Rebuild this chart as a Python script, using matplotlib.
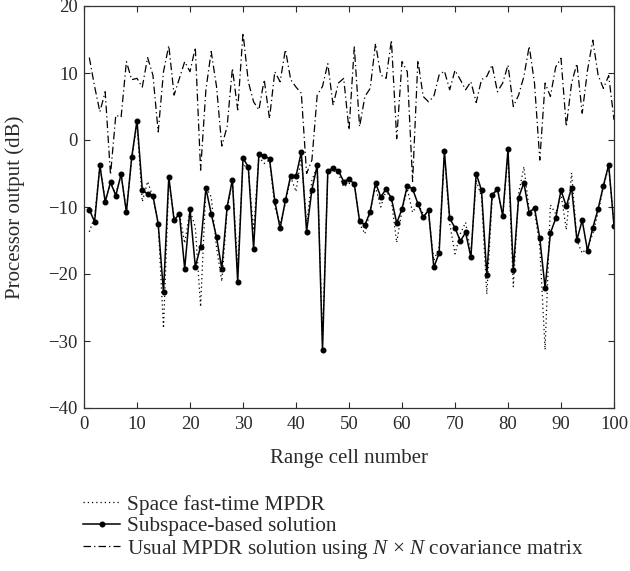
import matplotlib
matplotlib.use("Agg")
import matplotlib.pyplot as plt
import numpy as np

range_cells = list(range(1, 101))

subspace = [-10.4, -12.2, -3.8, -9.25, -6.3, -8.3, -5.1, -10.8, -2.6, 2.9,
            -7.4, -8.1, -8.3, -12.5, -22.7, -5.5, -12.0, -11.0, -19.2, -10.3,
            -18.9, -15.9, -7.2, -11.0, -14.5, -19.2, -10.0, -5.9, -21.2, -2.7,
            -4.0, -16.2, -2.1, -2.4, -2.8, -9.1, -13.2, -9.0, -5.3, -5.4,
            -1.8, -13.7, -7.4, -3.8, -31.4, -4.6, -4.2, -4.6, -6.2, -5.8,
            -6.6, -12.1, -12.7, -10.7, -6.4, -8.5, -7.3, -8.7, -12.4, -10.3,
            -6.8, -7.3, -9.5, -11.5, -10.5, -19.0, -16.9, -1.7, -11.7, -13.1,
            -15.1, -13.8, -17.5, -5.0, -7.5, -20.2, -8.2, -7.3, -11.3, -1.4,
            -19.4, -8.6, -6.4, -10.9, -10.1, -14.7, -22.1, -13.9, -11.7, -7.5,
            -9.9, -7.1, -14.9, -12.0, -16.5, -13.1, -10.3, -6.8, -3.7, -12.8]

space_fast_time = [-13.7, -11.5, -3.8, -9.0, -6.5, -8.0, -5.3, -10.5, -2.8, 2.5,
                   -9.2, -6.2, -8.5, -12.5, -28.1, -6.0, -11.5, -11.0, -15.4, -10.5,
                   -13.0, -24.9, -7.0, -8.5, -16.0, -21.1, -10.5, -6.0, -19.0, -3.5,
                   -4.5, -13.5, -2.5, -3.5, -3.0, -10.0, -12.5, -9.5, -5.5, -7.7,
                   -2.5, -12.5, -6.0, -4.0, -30.0, -4.8, -4.5, -5.0, -7.0, -6.5,
                   -6.3, -12.5, -14.0, -10.5, -7.0, -10.0, -7.5, -9.0, -15.3, -10.5,
                   -7.3, -10.8, -9.5, -11.0, -11.0, -18.0, -16.0, -2.0, -12.5, -17.0,
                   -14.0, -12.3, -17.0, -6.0, -8.5, -23.0, -9.0, -7.0, -11.5, -2.0,
                   -21.9, -8.0, -4.0, -10.5, -10.5, -16.0, -31.3, -9.7, -11.0, -8.0,
                   -13.4, -4.9, -15.0, -16.9, -16.0, -14.0, -10.8, -7.0, -4.0, -12.8]

usual_mpdr = [12.3, 8.0, 4.2, 7.2, -5.2, 3.7, 3.4, 11.7, 9.0, 9.2,
              7.9, 12.3, 9.7, 1.2, 10.2, 14.1, 6.7, 9.2, 11.7, 10.2,
              13.8, -4.5, 7.5, 13.2, 8.0, -0.9, 2.0, 10.7, 4.5, 16.0,
              8.7, 5.7, 4.5, 9.0, 3.2, 10.2, 8.7, 13.5, 9.0, 7.9,
              7.0, -5.0, -3.0, 6.7, 8.0, 11.4, 5.2, 8.5, 9.2, 1.5,
              13.9, 2.0, 6.5, 7.7, 14.4, 9.7, 9.2, 14.9, 0.2, 11.7,
              10.2, -6.2, 11.9, 6.5, 5.7, 6.5, 9.7, 10.3, 7.5, 10.4,
              9.0, 7.5, 8.7, 5.6, 9.0, 9.5, 11.2, 7.2, 8.5, 11.2,
              5.0, 6.7, 9.5, 14.0, 8.5, -3.0, 8.5, 6.5, 10.9, 12.2,
              2.0, 8.5, 11.4, 4.0, 10.4, 14.9, 9.7, 7.7, 9.6, 3.0]

x_ticks = [0, 10, 20, 30, 40, 50, 60, 70, 80, 90, 100]
y_ticks = [-40, -30, -20, -10, 0, 10, 20]

labels = ["Space fast-time MPDR",
          "Subspace-based solution",
          "Usual MPDR solution using $N$ \u00d7 $N$ covariance matrix"]

plt.rcParams['font.family'] = ['Liberation Serif', 'DejaVu Serif']
plt.rcParams['mathtext.fontset'] = 'custom'
plt.rcParams['mathtext.rm'] = 'Liberation Serif'
plt.rcParams['mathtext.it'] = 'Liberation Serif:italic'

TXT = '#2a2a2a'

fig = plt.figure(figsize=(6.3, 5.71), dpi=100)
ax = fig.add_axes([84/630, 1 - 408/571, 530/630, 402/571])

l1, = ax.plot(range_cells, space_fast_time, color='black', lw=0.9,
              linestyle=(0, (1, 2.4)))
l2, = ax.plot(range_cells, subspace, color='black', lw=1.1, marker='o',
              markersize=3.3)
l3, = ax.plot(range_cells, usual_mpdr, color='black', lw=0.9,
              linestyle=(0, (6, 2.5, 1, 2.5)))

ax.set_xlim(0, 100)
ax.set_ylim(-40, 20)
ax.set_xticks(x_ticks)
ax.set_yticks(y_ticks)
ax.set_yticklabels([("\u2212%d" % abs(v)) if v < 0 else str(v) for v in y_ticks])
ax.tick_params(direction='in', top=True, right=True, length=4, width=0.8,
               labelsize=13.5, colors=TXT)
ax.tick_params(axis='x', pad=6)
ax.tick_params(axis='y', pad=4.5)
for s in ax.spines.values():
    s.set_linewidth(0.9)
    s.set_color('#333333')

ax.set_xlabel("Range cell number", fontsize=15, color=TXT, va='center')
ax.xaxis.set_label_coords(0.5, (408 - 458) / 402)
ax.set_ylabel("Processor output (dB)", fontsize=15, color=TXT, va='center')
ax.yaxis.set_label_coords((15 - 84) / 530, 0.5)

fig.legend([l1, l2, l3], labels, loc='upper left',
           bbox_to_anchor=(83/630, 1 - 495/571), frameon=False,
           fontsize=15.3, handlelength=1.75, handletextpad=0.32,
           labelspacing=0.07, borderaxespad=0, borderpad=0,
           labelcolor=TXT)

fig.savefig("out.png", dpi=100)
